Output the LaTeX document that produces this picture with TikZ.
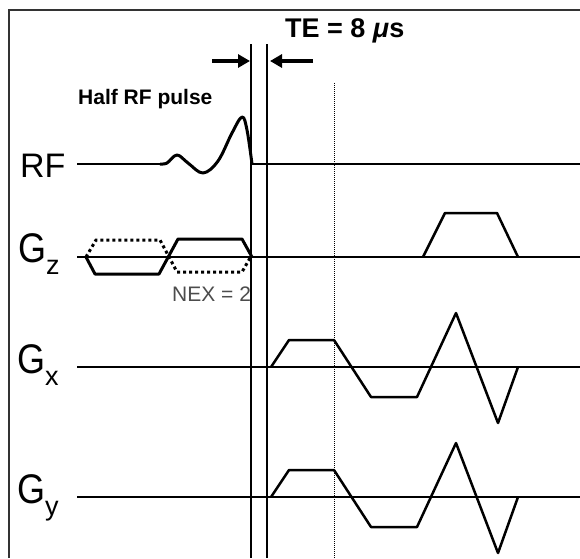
\documentclass[tikz,border=0pt]{standalone}
\usepackage{fontspec}
\setsansfont{Liberation Sans}
\usetikzlibrary{arrows.meta, positioning}

\newcommand{\glabel}[1]{\scalebox{1}[1.15]{G}\raisebox{-12pt}{\fontsize{27}{27}\selectfont #1}}

\begin{document}
\begin{tikzpicture}[x=1pt, y=-1pt,
  lbl/.style={inner sep=0pt, anchor=base west, font=\sffamily\fontsize{34}{34}\selectfont},
  glbl/.style={lbl, font=\sffamily\fontsize{36}{36}\selectfont},
  note/.style={inner sep=0pt, anchor=base west, font=\sffamily\bfseries\fontsize{21}{21}\selectfont},
  axisln/.style={line width=2pt},
  wave/.style={line width=2.5pt, line join=round},
  dotwave/.style={line width=3pt, dash pattern=on 3pt off 3pt},
  guide/.style={line width=1.5pt},
  arr/.style={-{Triangle[length=12pt, width=13pt]}, line width=4pt}
]
  \useasboundingbox (0,0) rectangle (580,558);
  % frame
  \draw[line width=1.5pt, black!80] (9,558) -- (9,10) -- (580,10);

  % channel labels
  \node[lbl] (RF) at (20,177) {RF};
  \node[glbl] (Gz) at (18,262) {\glabel{z}};
  \node[glbl] (Gx) at (17,373) {\glabel{x}};
  \node[glbl] (Gy) at (17,503) {\glabel{y}};

  % texts
  \node[note] (half) at (78,104) {Half RF pulse};
  \node[note, font=\sffamily\bfseries\fontsize{27}{27}\selectfont] (TE) at (285,37) {TE = 8 \textit{μ}s};
  \node[note, font=\sffamily\fontsize{21}{21}\selectfont, text=black!70] (nex) at (172,301) {NEX = 2};

  % time markers
  \coordinate (t1) at (251,44);
  \coordinate (t2) at (267,44);
  \coordinate (t3) at (334,83);
  \draw[guide] (t1) -- (t1 |- 0,558);
  \draw[guide] (t2) -- (t2 |- 0,558);
  \draw[line width=1pt, densely dotted] (t3) -- (t3 |- 0,558);
  \coordinate (a1) at (212,61);
  \coordinate (a2) at (313,61);
  \draw[arr] (a1) -- ([xshift=-1pt]a1 -| t1);
  \draw[arr] (a2) -- ([xshift=3pt]a2 -| t2);

  % RF
  \draw[axisln] (77,164) -- (167,164);
  \draw[axisln] (252,164) -- (580,164);
  \draw[wave, line width=3pt] plot[smooth, tension=0.6] coordinates {(160,164) (167,163) (177,155) (188,163) (203,173) (218,161) (232,133) (242,117) (247,130) (252,164)};

  % baselines
  \foreach \yb in {257,367,497}
    \draw[axisln] (77,\yb) -- (580,\yb);

  % Gz
  \draw[dotwave] (86,257) -- (96,240) -- (160,240) -- (177,272) -- (242,272) -- (250,258);
  \draw[wave, line width=3pt] (86,257) -- (95,274) -- (159,274) -- (178,239) -- (242,239) -- (252,257);
  \draw[wave] (423,257) -- (445,213) -- (497,213) -- (518,257);

  % Gx, Gy
  \foreach \yb in {367,497}
    \draw[wave] (271,\yb) -- ++(18,-27) -- ++(45,0) -- ++(37,57) -- ++(46,0)
      -- ++(39,-84) -- ++(42,110) -- ++(20,-56);
\end{tikzpicture}
\end{document}
